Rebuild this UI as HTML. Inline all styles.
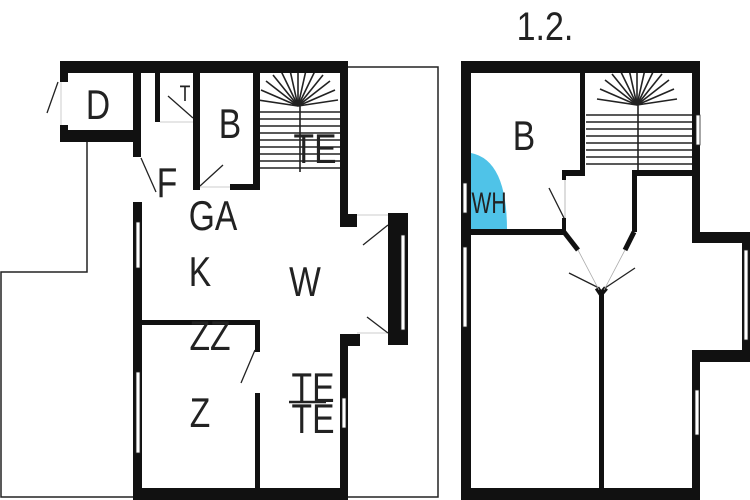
<!DOCTYPE html>
<html><head><style>
html,body{margin:0;padding:0;background:#fff}
svg{display:block}
text{font-family:"Liberation Sans",sans-serif;fill:#222}
</style></head><body>
<svg width="750" height="500" viewBox="0 0 750 500" xmlns="http://www.w3.org/2000/svg">
<defs>
<g id="fan" stroke="#222" stroke-width="1.6">
<line x1="0" y1="0" x2="-40" y2="-6"/><line x1="0" y1="0" x2="-37" y2="-16"/>
<line x1="0" y1="0" x2="-32" y2="-25"/><line x1="0" y1="0" x2="-25" y2="-31"/>
<line x1="0" y1="0" x2="-17" y2="-35"/><line x1="0" y1="0" x2="-8.5" y2="-38"/>
<line x1="0" y1="0" x2="0" y2="-40"/><line x1="0" y1="0" x2="8.5" y2="-38"/>
<line x1="0" y1="0" x2="17" y2="-35"/><line x1="0" y1="0" x2="25" y2="-31"/>
<line x1="0" y1="0" x2="32" y2="-25"/><line x1="0" y1="0" x2="37" y2="-16"/>
<line x1="0" y1="0" x2="40" y2="-6"/>
</g>
<clipPath id="c1"><rect x="260" y="73" width="80" height="100"/></clipPath>
<clipPath id="c2"><rect x="586" y="73" width="106" height="100"/></clipPath>
</defs>

<!-- LEFT PLAN -->
<g fill="none" stroke="#222" stroke-width="1.5">
<polyline points="348,67 438,67 438,497 348,497"/>
<polyline points="87,142 87,272 1,272 1,497 133,497"/>
</g>
<g fill="#111">
<rect x="60" y="61" width="288" height="12"/>
<rect x="60" y="61" width="8" height="21"/>
<rect x="60" y="125" width="8" height="17"/>
<rect x="60" y="130" width="80" height="12"/>
<rect x="133" y="61" width="8" height="96"/>
<rect x="133" y="202" width="9" height="298"/>
<rect x="133" y="488" width="215" height="12"/>
<rect x="340" y="61" width="8" height="166"/>
<rect x="340" y="214" width="17" height="13"/>
<rect x="388" y="213" width="20" height="132"/>
<rect x="340" y="334" width="20" height="12"/>
<rect x="340" y="334" width="8" height="166"/>
<rect x="155" y="73" width="5" height="49"/>
<rect x="193" y="73" width="7" height="117"/>
<rect x="230" y="184" width="28" height="6"/>
<rect x="253" y="73" width="7" height="117"/>
<rect x="142" y="320" width="118" height="5"/>
<rect x="255" y="320" width="5" height="32"/>
<rect x="255" y="393" width="5" height="97"/>
</g>
<g fill="#fff" stroke="#222" stroke-width="0.8">
<rect x="136" y="222" width="4" height="46"/>
<rect x="136" y="372" width="4" height="81"/>
<rect x="401" y="235" width="4" height="95"/>
<rect x="342" y="398" width="4" height="30"/>
</g>
<g stroke="#ccc" stroke-width="1">
<line x1="160" y1="122" x2="193" y2="122"/>
<line x1="200" y1="187" x2="230" y2="187"/>
<line x1="357" y1="215" x2="388" y2="215"/>
<line x1="357" y1="333" x2="388" y2="333"/>
<line x1="61" y1="82" x2="61" y2="125"/>
</g>
<g stroke="#222" stroke-width="1.3">
<line x1="58" y1="82" x2="47" y2="113"/>
<line x1="168" y1="96" x2="193" y2="118"/>
<line x1="200" y1="186" x2="223" y2="165"/>
<line x1="141" y1="158" x2="156" y2="192"/>
<line x1="388" y1="225" x2="363" y2="245"/>
<line x1="388" y1="333" x2="367" y2="317"/>
<line x1="255" y1="350" x2="241" y2="383"/>
</g>
<g clip-path="url(#c1)">
<use href="#fan" x="298" y="106"/>
</g>
<g stroke="#222" stroke-width="1.6">
<line x1="260" y1="112" x2="340" y2="112"/><line x1="260" y1="119" x2="340" y2="119"/>
<line x1="260" y1="126" x2="340" y2="126"/><line x1="260" y1="133" x2="340" y2="133"/>
<line x1="260" y1="140" x2="340" y2="140"/><line x1="260" y1="147" x2="340" y2="147"/>
<line x1="260" y1="154" x2="340" y2="154"/><line x1="260" y1="161" x2="340" y2="161"/>
<line x1="260" y1="168" x2="340" y2="168"/>
<line x1="300" y1="106" x2="300" y2="172"/>
<line x1="289" y1="402" x2="326" y2="402" stroke-width="2.5"/>
</g>
<g font-size="42" text-anchor="middle">
<text transform="translate(98 119) scale(0.8 1)">D</text>
<text transform="translate(185 101) scale(0.8 1)" font-size="22">T</text>
<text transform="translate(230 138) scale(0.8 1)">B</text>
<text transform="translate(315 163) scale(0.8 1)">TE</text>
<text transform="translate(167 197) scale(0.8 1)">F</text>
<text transform="translate(213 230) scale(0.8 1)">GA</text>
<text transform="translate(200 286) scale(0.8 1)">K</text>
<text transform="translate(305 296) scale(0.8 1)">W</text>
<text transform="translate(210 350) scale(0.8 1)">ZZ</text>
<text transform="translate(200 427) scale(0.8 1)">Z</text>
<text transform="translate(313 402) scale(0.8 1)">TE</text>
<text transform="translate(313 433) scale(0.8 1)">TE</text>
<text transform="translate(545 40) scale(0.85 1)" font-size="40">1.2.</text>
</g>

<!-- RIGHT PLAN -->
<path d="M471,153 Q507,160 507,230 L471,230 Z" fill="#4fc3e8"/>
<g fill="#111">
<rect x="461" y="61" width="239" height="12"/>
<rect x="461" y="61" width="10" height="439"/>
<rect x="461" y="488" width="239" height="12"/>
<rect x="692" y="61" width="8" height="182"/>
<rect x="692" y="232" width="58" height="11"/>
<rect x="692" y="350" width="58" height="12"/>
<rect x="692" y="350" width="8" height="150"/>
<rect x="742" y="232" width="8" height="130"/>
<rect x="580" y="73" width="5" height="103"/>
<rect x="562" y="170" width="23" height="6"/>
<rect x="562" y="170" width="4" height="10"/>
<rect x="562" y="218" width="4" height="14"/>
<rect x="471" y="229" width="95" height="6"/>
<rect x="632" y="170" width="60" height="6"/>
<rect x="632" y="170" width="5" height="62"/>
<rect x="599" y="292" width="5" height="196"/>
</g>
<g stroke="#111" stroke-width="5" fill="none">
<line x1="564" y1="232" x2="578" y2="250"/>
<line x1="634" y1="232" x2="625" y2="250"/>
<polyline points="597,288 601,294 606,288"/>
</g>
<g stroke="#222" stroke-width="1.3">
<line x1="564" y1="218" x2="549" y2="188"/>
<line x1="599" y1="288" x2="569" y2="273"/>
<line x1="605" y1="288" x2="635" y2="268"/>
</g>
<g stroke="#aaa" stroke-width="0.8">
<line x1="578" y1="250" x2="599" y2="290"/>
<line x1="625" y1="250" x2="604" y2="290"/>
<line x1="565" y1="180" x2="565" y2="218"/>
</g>
<g fill="#fff" stroke="#222" stroke-width="0.8">
<rect x="463" y="183" width="4" height="30"/>
<rect x="463" y="247" width="4" height="80"/>
<rect x="696" y="115" width="4" height="30"/>
<rect x="695" y="390" width="4" height="45"/>
<rect x="744" y="250" width="4" height="90"/>
</g>
<g clip-path="url(#c2)">
<use href="#fan" x="637" y="105"/>
</g>
<g stroke="#222" stroke-width="1.6">
<line x1="586" y1="115" x2="692" y2="115"/><line x1="586" y1="122" x2="692" y2="122"/>
<line x1="586" y1="129" x2="692" y2="129"/><line x1="586" y1="136" x2="692" y2="136"/>
<line x1="586" y1="143" x2="692" y2="143"/><line x1="586" y1="150" x2="692" y2="150"/>
<line x1="586" y1="157" x2="692" y2="157"/><line x1="586" y1="164" x2="692" y2="164"/>
<line x1="638" y1="105" x2="638" y2="170"/>
</g>
<g font-size="42" text-anchor="middle">
<text transform="translate(524 150) scale(0.8 1)">B</text>
<text transform="translate(489 213) scale(0.7 1)" font-size="30">WH</text>
</g>
</svg>
</body></html>
